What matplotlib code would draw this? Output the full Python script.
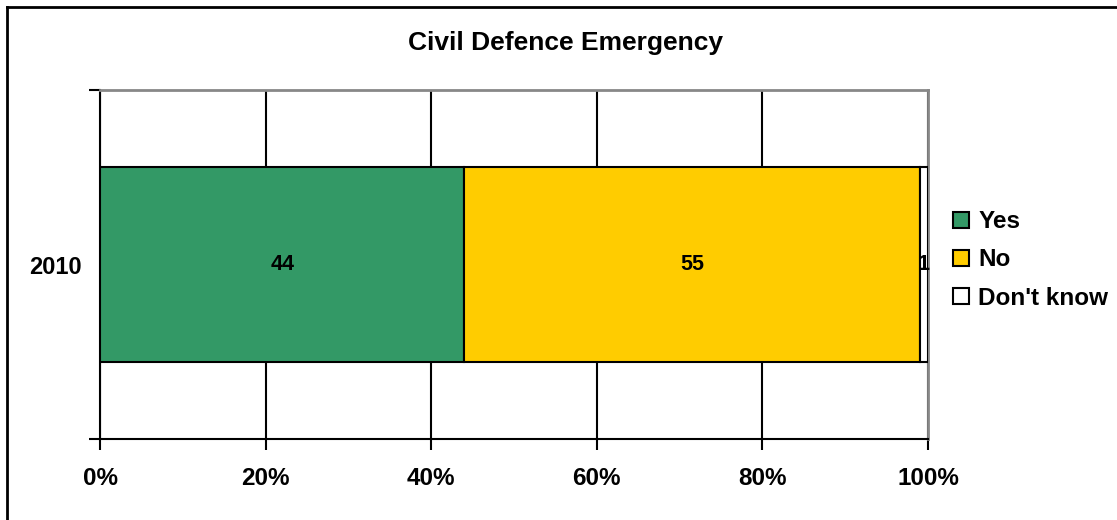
import matplotlib
matplotlib.use("Agg")
import matplotlib.pyplot as plt
from matplotlib.lines import Line2D
from matplotlib.patches import Patch

plt.rcParams['font.family'] = ['Liberation Sans', 'DejaVu Sans']
plt.rcParams['font.weight'] = 'bold'

years = ["2010"]
responses = ["Yes", "No", "Don't know"]
values = [44, 55, 1]
colors = ["#339966", "#FFCC00", "#FFFFFF"]
xticks = [0, 20, 40, 60, 80, 100]
xtick_labels = ["0%", "20%", "40%", "60%", "80%", "100%"]

fig = plt.figure(figsize=(11.17, 5.2), dpi=100)
ax = fig.add_axes([100/1117, 81/520, 828/1117, 349/520])

left = 0
for label, val, col in zip(responses, values, colors):
    ax.barh(0, val, left=left, height=0.559, color=col, edgecolor='black',
            linewidth=1.5, label=label, zorder=3)
    ax.text(left + val / 2, 0, str(val), ha='center', va='center',
            fontsize=15.5, fontweight='bold', zorder=4)
    left += val

ax.set_xlim(0, 100)
ax.set_ylim(-0.5, 0.5)
ax.set_xticks(xticks)
ax.set_xticklabels(xtick_labels, fontsize=17.5, fontweight='bold')
ax.set_yticks([-0.5, 0.5])
ax.set_yticklabels([])
ax.set_yticks([0], minor=True)
ax.set_yticklabels(years, minor=True, fontsize=17, fontweight='bold')
ax.tick_params(axis='y', which='minor', length=0, pad=13)
ax.tick_params(axis='y', which='major', length=8, width=1.5, direction='out')
ax.tick_params(axis='x', length=8, width=1.5, direction='out', pad=12.5)
ax.xaxis.grid(True, color='black', linewidth=1.5, zorder=0)
ax.set_axisbelow(True)

ax.spines['left'].set_color('black')
ax.spines['left'].set_linewidth(1.5)
ax.spines['bottom'].set_color('black')
ax.spines['bottom'].set_linewidth(1.5)
ax.spines['top'].set_color('#888888')
ax.spines['top'].set_linewidth(2)
ax.spines['right'].set_color('#888888')
ax.spines['right'].set_linewidth(2)

fig.text(566/1117, 1 - 43/520, "Civil Defence Emergency", ha='center', va='center',
         fontsize=19, fontweight='bold')

handles = [Patch(facecolor=c, edgecolor='black', linewidth=1.5) for c in colors]
fig.legend(handles, responses, loc='center left', bbox_to_anchor=(953/1117, 1 - 260/520),
           frameon=False, fontsize=17.5, handlelength=0.66, handleheight=0.66,
           handletextpad=0.38, labelspacing=0.62, borderaxespad=0, borderpad=0)

# outer frame: left and top edges
fig.add_artist(Line2D([7/1117, 7/1117], [0, 1 - 7/520], color='black', linewidth=2,
                      transform=fig.transFigure))
fig.add_artist(Line2D([7/1117, 1], [1 - 7/520, 1 - 7/520], color='black', linewidth=2,
                      transform=fig.transFigure))

fig.savefig("out.png", dpi=100)
